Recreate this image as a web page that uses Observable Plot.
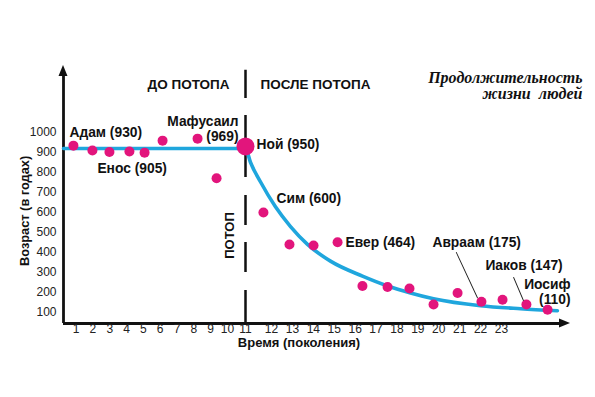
<!DOCTYPE html>
<html><head><meta charset="utf-8">
<script src="https://cdn.jsdelivr.net/npm/d3@7"></script>
<script src="https://cdn.jsdelivr.net/npm/@observablehq/plot@0.6"></script>
<style>body{margin:0;background:#fff}</style>
</head><body><div id="chart"></div>
<script>
// ---- data ----
const names = ["Адам","Сиф","Енос","Каинан","Малелеил","Иаред","Мафусаил","Ламех","Ной",
  "Сим","Арфаксад","Сала","Евер","Фалек","Рагав","Серух","Нахор","Фарра","Авраам","Исаак","Иаков","Иосиф"];
const generations = [0.84,1.97,2.98,4.17,5.07,6.14,8.22,9.35,11,
  11.69,12.86,14.01,15.16,16.35,17.55,18.6,19.75,20.9,22.04,23.05,24.19,25.2];
const ages = [935,911,903,906,900,960,970,772,931,
  600,440,435,452,233,228,220,140,198,154,164,140,114];

const trendGen = [0.25,11,11.19,11.58,12.19,12.91,13.72,14.82,16.35,17.55,18.65,19.75,22.0,23.91,25.67];
const trendAge = [921,921,852,753,629,530,441,357,282,233,198,169,134,119,109];

const labelNames = ["Адам","Енос","Мафусаил","Ной","Сим","Евер","Авраам","Иаков","Иосиф"];
const labelAges  = [930,905,969,950,600,464,175,147,110];

const xTicks = [1,2,3,4,5,6,7,8,9,10,11,12,13,14,15,16,17,18,19,20,21,22,23];
const yTicks = [100,200,300,400,500,600,700,800,900,1000];
const floodGen = 11;

// ---- build ----
const points = names.map((n,i)=>({name:n, gen:generations[i], age:ages[i]}));
const trend = trendGen.map((g,i)=>({gen:g, age:trendAge[i]}));
const labelOf = n => { const i = labelNames.indexOf(n); return `${n} (${labelAges[i]})`; };
const byName = n => points.filter(d=>d.name===n);

const SANS = "Liberation Sans, Arial, Helvetica, sans-serif";
const INK = "#111";
const PINK = "#e2157c";
const BLUE = "#1fa6dd";

function lbl(name, opts) {
  return Plot.text(byName(name), {x:"gen", y:"age", text: () => opts.text ?? labelOf(name),
    textAnchor: opts.anchor ?? "start", dx: opts.dx, dy: opts.dy,
    fontWeight:"bold", fontSize:13.8, fontFamily:SANS, fill:INK, lineHeight:1.1});
}
const lineShape = {draw(ctx, l){ ctx.moveTo(0,0); ctx.lineTo(0,-l); }};

const plot = Plot.plot({
  width:595, height:397,
  marginTop:68, marginLeft:63, marginRight:27, marginBottom:74,
  x:{type:"linear", domain:[0.25,10,11,12,23,26.2], range:[63,227,245,271,501,568], axis:null},
  y:{type:"linear", domain:[45,1321], axis:null},
  style:{fontFamily:SANS, background:"white", overflow:"visible"},
  marks:[
    // flood divider
    Plot.ruleX([floodGen], {y1:45, y2:1312, stroke:INK, strokeWidth:2.5,
      strokeDasharray:"33,18,30,17,30,18,62,17,31,20"}),
    // axes
    Plot.ruleX([0.25], {y1:45, y2:1290, stroke:INK, strokeWidth:2.8}),
    Plot.ruleY([45], {x1:0.25, x2:25.8, stroke:INK, strokeWidth:2.8}),
    // tick labels
    Plot.text(yTicks, {y:d=>d, text:d=>String(d), frameAnchor:"left", dx:-7, textAnchor:"end", fontSize:12, fill:"#222"}),
    Plot.text(xTicks, {x:d=>d, text:d=>String(d), frameAnchor:"bottom", dy:9, fontSize:12, fill:"#222"}),
    // axis titles
    Plot.text(["Возраст (в годах)"], {frameAnchor:"left", rotate:-90, dx:-39, dy:70, fontWeight:"bold", fontSize:12.8, fill:INK}),
    Plot.text(["Время (поколения)"], {frameAnchor:"bottom", dx:-17, dy:23, fontWeight:"bold", fontSize:13, fill:INK}),
    // header
    Plot.text(["ДО ПОТОПА"], {x:()=>floodGen, frameAnchor:"top", dx:-16, dy:11, textAnchor:"end", fontWeight:"bold", fontSize:13.5, fill:INK}),
    Plot.text(["ПОСЛЕ ПОТОПА"], {x:()=>floodGen, frameAnchor:"top", dx:15, dy:11, textAnchor:"start", fontWeight:"bold", fontSize:13.5, fill:INK}),
    Plot.text(["ПОТОП"], {x:()=>floodGen, frameAnchor:"bottom", dx:-12, dy:-88, rotate:-90, fontWeight:"bold", fontSize:13, fill:INK}),
    Plot.text(["Продолжительность\nжизни  людей"], {frameAnchor:"top-right", dx:14, dy:17, textAnchor:"end", lineAnchor:"middle",
      lineHeight:1.0, fontFamily:"Liberation Serif, Times New Roman, serif", fontStyle:"italic", fontWeight:"bold", fontSize:16, fill:INK}),
    // trend line
    Plot.line(trend, {x:"gen", y:"age", stroke:BLUE, strokeWidth:3.6, curve:"monotone-x"}),
    // points
    Plot.dot(points.filter(d=>d.name!=="Ной"), {x:"gen", y:"age", r:5, fill:PINK}),
    Plot.dot(byName("Ной"), {x:"gen", y:"age", r:9, fill:PINK}),
    // leader lines
    Plot.vector(byName("Авраам"), {x:"gen", y:"age", length:50, rotate:-25, anchor:"start", dx:-4, dy:-4, shape:lineShape, stroke:"#222", strokeWidth:0.9}),
    Plot.vector(byName("Иаков"), {x:"gen", y:"age", length:25, rotate:-23, anchor:"start", dx:-3, dy:-4, shape:lineShape, stroke:"#222", strokeWidth:0.9}),
    // labels
    lbl("Адам", {dx:-4, dy:-13}),
    lbl("Енос", {dx:-12, dy:16}),
    lbl("Мафусаил", {text:"Мафусаил\n(969)", anchor:"end", dx:41, dy:-10}),
    lbl("Ной", {dx:11, dy:-2}),
    lbl("Сим", {dx:13, dy:-14}),
    lbl("Евер", {dx:8, dy:0}),
    lbl("Авраам", {dx:-49, dy:-60}),
    lbl("Иаков", {dx:-41, dy:-39}),
    lbl("Иосиф", {text:"Иосиф\n(110)", anchor:"end", dx:23, dy:-18})
  ]
});

// filled arrow heads at the ends of the axes, placed via the plot's own scales
const sx = plot.scale("x"), sy = plot.scale("y");
const ax = sx.apply(0.25), ay = sy.apply(45);
const topY = sy.apply(1321) - 3, rightX = sx.apply(26.2) + 2;
const svg = d3.select(plot);
svg.append("path").attr("fill", INK)
  .attr("d", `M${ax},${topY}L${ax-4.5},${topY+11}L${ax+4.5},${topY+11}Z`);
svg.append("path").attr("fill", INK)
  .attr("d", `M${rightX},${ay}L${rightX-11},${ay-4.5}L${rightX-11},${ay+4.5}Z`);

document.getElementById("chart").append(plot);
</script>
</body></html>
